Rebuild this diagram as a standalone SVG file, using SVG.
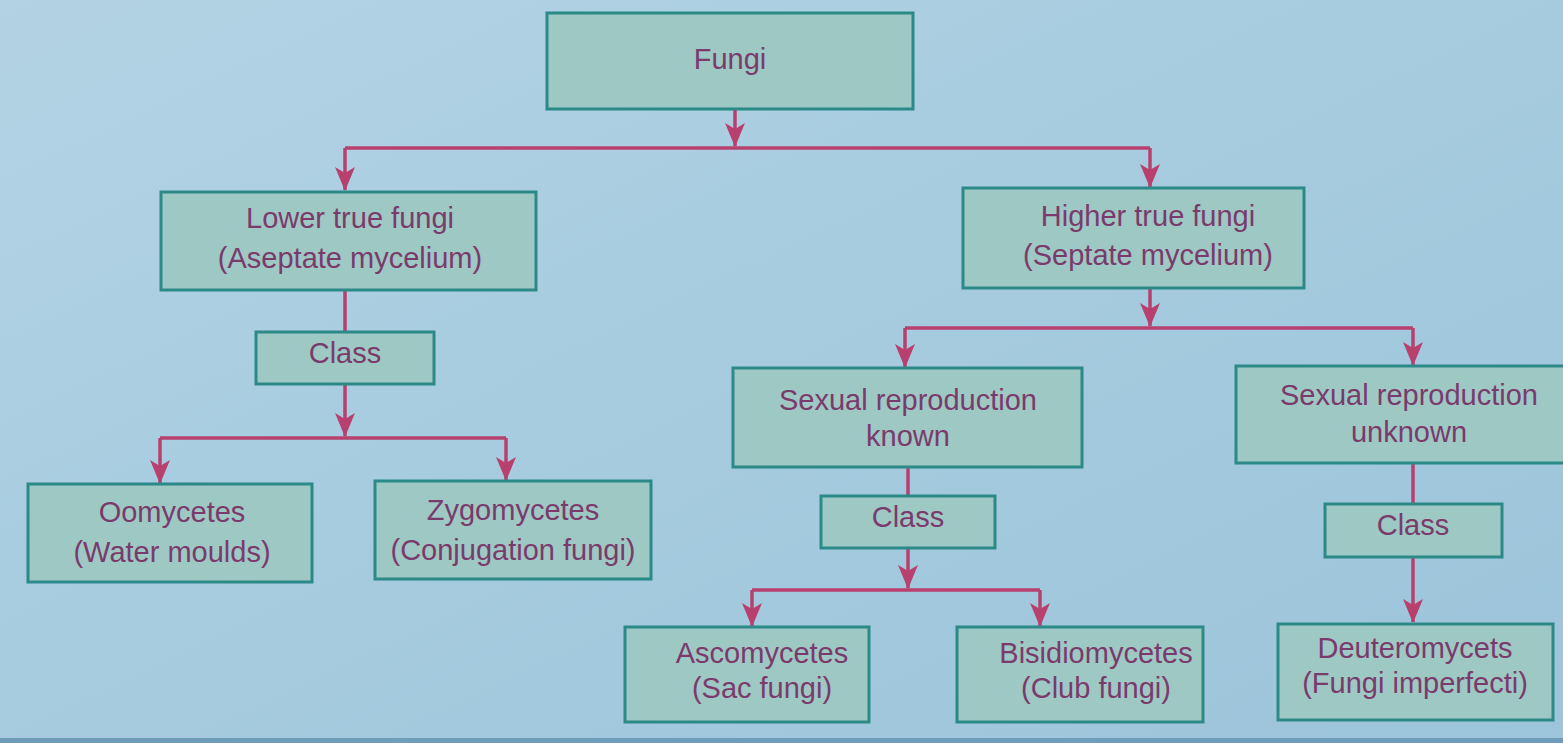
<svg xmlns="http://www.w3.org/2000/svg" width="1563" height="743" viewBox="0 0 1563 743">
<defs>
<linearGradient id="bg" x1="0" y1="0" x2="1" y2="1">
<stop offset="0" stop-color="#b3d3e4"/>
<stop offset="0.5" stop-color="#a6cbdf"/>
<stop offset="1" stop-color="#9cc4da"/>
</linearGradient>
<marker id="arr" viewBox="0 0 24 22" refX="23" refY="11" markerWidth="24" markerHeight="22" markerUnits="userSpaceOnUse" orient="auto">
<path d="M0,1 L24,11 L0,21 L6,11 z" fill="#b8406f"/>
</marker>
<style>
.box{fill:#9ec8c3;stroke:#2b8a88;stroke-width:3}
.t{font-family:"Liberation Sans",Arial,sans-serif;font-size:29px;fill:#7a3b6c;text-anchor:middle}
.c{fill:none;stroke:#b8406f;stroke-width:3.5}
.a{fill:none;stroke:#b8406f;stroke-width:3.5;marker-end:url(#arr)}
</style>
</defs>
<rect width="1563" height="743" fill="url(#bg)"/>
<rect x="0" y="738" width="1563" height="5" fill="#6f9cba"/>

<g id="connectors">
<path class="a" d="M735,109 V146"/>
<path class="c" d="M345,148 H1150"/>
<path class="a" d="M345,148 V190"/>
<path class="a" d="M1150,148 V187"/>
<path class="c" d="M345,290 V332"/>
<path class="a" d="M345,384 V436"/>
<path class="c" d="M160,438 H506"/>
<path class="a" d="M160,438 V483"/>
<path class="a" d="M506,438 V480"/>
<path class="a" d="M1150,288 V326"/>
<path class="c" d="M905,328 H1413"/>
<path class="a" d="M905,328 V367"/>
<path class="a" d="M1413,328 V365"/>
<path class="c" d="M908,467 V496"/>
<path class="a" d="M908,548 V588"/>
<path class="c" d="M752,590 H1040"/>
<path class="a" d="M752,590 V626"/>
<path class="a" d="M1040,590 V626"/>
<path class="c" d="M1413,463 V504"/>
<path class="a" d="M1413,557 V622"/>
</g>

<g id="fungi"><rect class="box" x="547" y="13" width="366" height="96"/><text class="t" x="730" y="69">Fungi</text></g>
<g id="lower"><rect class="box" x="161" y="192" width="375" height="98"/><text class="t" x="350" y="228">Lower true fungi</text><text class="t" x="350" y="268">(Aseptate mycelium)</text></g>
<g id="class1"><rect class="box" x="256" y="332" width="178" height="52"/><text class="t" x="345" y="363">Class</text></g>
<g id="oomycetes"><rect class="box" x="28" y="484" width="284" height="98"/><text class="t" x="172" y="522">Oomycetes</text><text class="t" x="172" y="562">(Water moulds)</text></g>
<g id="zygomycetes"><rect class="box" x="375" y="481" width="276" height="98"/><text class="t" x="513" y="520">Zygomycetes</text><text class="t" x="513" y="560">(Conjugation fungi)</text></g>
<g id="higher"><rect class="box" x="963" y="188" width="341" height="100"/><text class="t" x="1148" y="226">Higher true fungi</text><text class="t" x="1148" y="265">(Septate mycelium)</text></g>
<g id="known"><rect class="box" x="733" y="368" width="349" height="99"/><text class="t" x="908" y="410">Sexual reproduction</text><text class="t" x="908" y="446">known</text></g>
<g id="class2"><rect class="box" x="821" y="496" width="174" height="52"/><text class="t" x="908" y="527">Class</text></g>
<g id="ascomycetes"><rect class="box" x="625" y="627" width="244" height="95"/><text class="t" x="762" y="663">Ascomycetes</text><text class="t" x="762" y="698">(Sac fungi)</text></g>
<g id="bisidiomycetes"><rect class="box" x="957" y="627" width="246" height="95"/><text class="t" x="1096" y="663">Bisidiomycetes</text><text class="t" x="1096" y="698">(Club fungi)</text></g>
<g id="unknown"><rect class="box" x="1236" y="366" width="330" height="97"/><text class="t" x="1409" y="405">Sexual reproduction</text><text class="t" x="1409" y="442">unknown</text></g>
<g id="class3"><rect class="box" x="1325" y="504" width="177" height="53"/><text class="t" x="1413" y="535">Class</text></g>
<g id="deuteromycets"><rect class="box" x="1278" y="624" width="275" height="96"/><text class="t" x="1415" y="658">Deuteromycets</text><text class="t" x="1415" y="693">(Fungi imperfecti)</text></g>
</svg>
